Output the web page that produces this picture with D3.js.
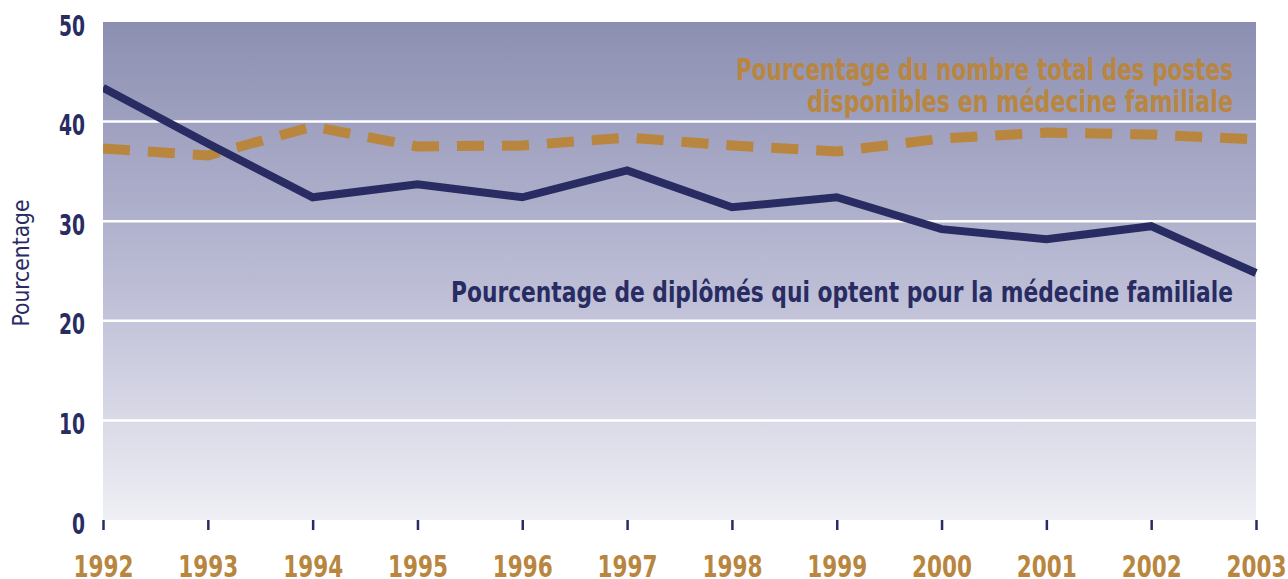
<!DOCTYPE html>
<html><head><meta charset="utf-8">
<script src="https://cdn.jsdelivr.net/npm/d3@7/dist/d3.min.js"></script>
<style>
html,body{margin:0;padding:0;background:#fff;}
svg{display:block;}
.cond{font-family:"DejaVu Sans Condensed","DejaVu Sans",sans-serif;font-weight:bold;}
</style></head>
<body>
<svg id="chart" width="1288" height="579"></svg>
<script>
const years = [1992,1993,1994,1995,1996,1997,1998,1999,2000,2001,2002,2003];
const diplomes = [43.4,37.8,32.4,33.7,32.4,35.1,31.4,32.4,29.2,28.2,29.5,24.8];
const postes = [37.3,36.6,39.5,37.5,37.6,38.4,37.6,37.0,38.3,38.9,38.7,38.2];
const yTicks = [0,10,20,30,40,50];
const labelPostes = ["Pourcentage du nombre total des postes","disponibles en médecine familiale"];
const labelDiplomes = "Pourcentage de diplômés qui optent pour la médecine familiale";
const yTitle = "Pourcentage";

const navy = "#282c62", gold = "#b8863f";
const svg = d3.select("#chart");
const L = 103, R = 1256, T = 22, B = 520;
const x = d3.scaleLinear().domain([1992,2003]).range([L,R]);
const y = d3.scaleLinear().domain([0,50]).range([B,T]);

const defs = svg.append("defs");
const grad = defs.append("linearGradient").attr("id","bg").attr("x1",0).attr("y1",0).attr("x2",0).attr("y2",1);
grad.append("stop").attr("offset","0%").attr("stop-color","#8d8fb2");
grad.append("stop").attr("offset","50%").attr("stop-color","#b9bad3");
grad.append("stop").attr("offset","100%").attr("stop-color","#efeff5");
defs.append("clipPath").attr("id","clip").append("rect").attr("x",L).attr("y",T).attr("width",R-L+2).attr("height",B-T);

svg.append("rect").attr("x",L).attr("y",T).attr("width",R-L).attr("height",B-T).attr("fill","url(#bg)");

// gridlines
svg.append("g").selectAll("line").data(yTicks.filter(d=>d>0 && d<50)).join("line")
  .attr("x1",L).attr("x2",R).attr("y1",d=>y(d)).attr("y2",d=>y(d))
  .attr("stroke","#fff").attr("stroke-width",2.5);

// y axis labels
const yAxis = d3.axisLeft(y).tickValues(yTicks).tickSize(0).tickPadding(0);
const gy = svg.append("g").attr("transform",`translate(${L-18},0)`).call(yAxis);
gy.select(".domain").remove();
gy.selectAll("text").attr("class","cond").attr("fill",navy).style("font-size","29px")
  .attr("x",0).attr("y",13).attr("dy",null)
  .attr("textLength",d=>String(d).length*13).attr("lengthAdjust","spacingAndGlyphs");

// x axis
const xAxis = d3.axisBottom(x).tickValues(years).tickFormat(d3.format("d")).tickSize(10).tickPadding(0);
const gx = svg.append("g").attr("transform",`translate(0,${B})`).call(xAxis);
gx.select(".domain").remove();
gx.selectAll("line").attr("stroke",navy).attr("stroke-width",2.5);
gx.selectAll("text").attr("class","cond").attr("fill",gold).style("font-size","30px")
  .attr("y",57).attr("dy",null)
  .attr("textLength",60).attr("lengthAdjust","spacingAndGlyphs");

// y title
svg.append("text").attr("transform","translate(29,263) rotate(-90)").attr("text-anchor","middle")
  .attr("font-family","'DejaVu Sans Condensed','DejaVu Sans',sans-serif").attr("font-size","23px").attr("fill",navy)
  .attr("textLength",127).attr("lengthAdjust","spacingAndGlyphs").text(yTitle);

const lineGen = d3.line().x((d,i)=>x(years[i])).y(d=>y(d));
const g = svg.append("g").attr("clip-path","url(#clip)");
g.append("path").datum(postes).attr("d",lineGen).attr("fill","none").attr("stroke",gold)
  .attr("stroke-width",10).attr("stroke-dasharray","27,18");
g.append("path").datum(diplomes).attr("d",lineGen).attr("fill","none").attr("stroke",navy)
  .attr("stroke-width",8).attr("stroke-linejoin","miter");

// labels
const postesWidths = [497,426];
svg.append("text").attr("class","cond").attr("text-anchor","end").attr("fill",gold).style("font-size","31px")
  .selectAll("tspan").data(labelPostes).join("tspan").attr("x",1233).attr("y",(d,i)=>80+i*32)
  .attr("textLength",(d,i)=>postesWidths[i]).attr("lengthAdjust","spacingAndGlyphs").text(d=>d);
svg.append("text").attr("class","cond").attr("text-anchor","end").attr("fill",navy).style("font-size","29px")
  .attr("x",1233).attr("y",302).attr("textLength",782).attr("lengthAdjust","spacingAndGlyphs").text(labelDiplomes);
</script>
</body></html>
